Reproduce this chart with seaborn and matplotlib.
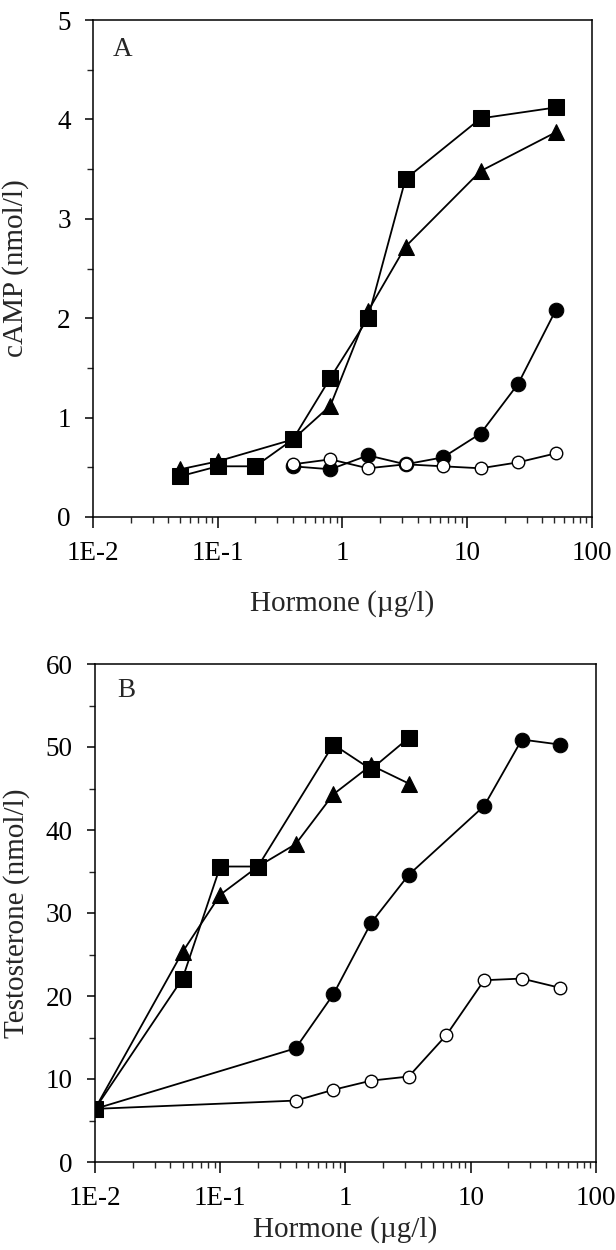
import matplotlib
matplotlib.use("Agg")
import matplotlib.pyplot as plt
import seaborn as sns
import numpy as np
import pandas as pd

# panel A: cAMP (nmol/l)
a_sq_x = [0.05, 0.1, 0.2, 0.4, 0.8, 1.6, 3.2, 12.8, 51.2]
a_sq_y = [0.41, 0.51, 0.51, 0.78, 1.40, 2.00, 3.40, 4.01, 4.12]
a_tri_x = [0.05, 0.1, 0.4, 0.8, 1.6, 3.2, 12.8, 51.2]
a_tri_y = [0.48, 0.56, 0.78, 1.12, 2.07, 2.72, 3.48, 3.87]
a_fc_x = [0.4, 0.8, 1.6, 3.2, 6.4, 12.8, 25.6, 51.2]
a_fc_y = [0.51, 0.48, 0.62, 0.53, 0.60, 0.84, 1.34, 2.08]
a_oc_x = [0.4, 0.8, 1.6, 3.2, 6.4, 12.8, 25.6, 51.2]
a_oc_y = [0.53, 0.58, 0.49, 0.53, 0.51, 0.49, 0.55, 0.64]

# panel B: testosterone (nmol/l)
b_sq_x = [0.01, 0.05, 0.1, 0.2, 0.8, 1.6, 3.2]
b_sq_y = [6.4, 22.1, 35.6, 35.6, 50.3, 47.3, 51.1]
b_tri_x = [0.01, 0.05, 0.1, 0.2, 0.4, 0.8, 1.6, 3.2]
b_tri_y = [6.4, 25.3, 32.2, 35.6, 38.3, 44.3, 47.8, 45.6]
b_fc_x = [0.01, 0.4, 0.8, 1.6, 3.2, 12.8, 25.6, 51.2]
b_fc_y = [6.4, 13.7, 20.2, 28.8, 34.6, 42.9, 50.9, 50.3]
b_oc_x = [0.01, 0.4, 0.8, 1.6, 3.2, 6.4, 12.8, 25.6, 51.2]
b_oc_y = [6.4, 7.4, 8.7, 9.8, 10.3, 15.3, 21.9, 22.1, 21.0]

x_ticks = [0.01, 0.1, 1, 10, 100]
x_tick_labels = ["1E-2", "1E-1", "1", "10", "100"]

sns.set_style("ticks")
plt.rcParams['font.family'] = ['Liberation Serif', 'DejaVu Serif']

fig = plt.figure(figsize=(6.16, 12.5), dpi=100)
ax_a = fig.add_axes([0.151, 0.5864, 0.810, 0.3976])
ax_b = fig.add_axes([0.1542, 0.0704, 0.8133, 0.3984])

line_kw = dict(color='black', linewidth=1.3)


def draw_series(ax, sq, tri, fc, oc):
    sns.lineplot(x=fc[0], y=fc[1], ax=ax, marker='o', markersize=10.5, markerfacecolor='black',
                 markeredgecolor='black', sort=False, **line_kw)
    sns.lineplot(x=oc[0], y=oc[1], ax=ax, marker='o', markersize=9, markerfacecolor='white',
                 markeredgecolor='black', markeredgewidth=1.0, sort=False, **line_kw)
    sns.lineplot(x=tri[0], y=tri[1], ax=ax, marker='^', markersize=11.5, markerfacecolor='black',
                 markeredgecolor='black', sort=False, **line_kw)
    sns.lineplot(x=sq[0], y=sq[1], ax=ax, marker='s', markersize=11, markerfacecolor='black',
                 markeredgecolor='black', sort=False, **line_kw)


draw_series(ax_a, (a_sq_x, a_sq_y), (a_tri_x, a_tri_y), (a_fc_x, a_fc_y), (a_oc_x, a_oc_y))
draw_series(ax_b, (b_sq_x, b_sq_y), (b_tri_x, b_tri_y), (b_fc_x, b_fc_y), (b_oc_x, b_oc_y))

for ax in (ax_a, ax_b):
    ax.set_xscale('log')
    ax.set_xlim(0.01, 100)
    ax.set_xticks(x_ticks)
    ax.set_xticklabels(x_tick_labels)
    ax.xaxis.set_minor_locator(matplotlib.ticker.LogLocator(base=10, subs=np.arange(2, 10)))
    ax.xaxis.set_minor_formatter(matplotlib.ticker.NullFormatter())
    ax.tick_params(axis='both', which='major', direction='out', length=8, width=1.1,
                   labelsize=19.5, pad=9, colors='black')
    ax.tick_params(axis='both', which='minor', direction='out', length=4.5, width=1.0)
    ax.tick_params(axis='y', which='major', pad=10, length=6)
    ax.tick_params(top=False, right=False, which='both')
    for s in ax.spines.values():
        s.set_visible(True)
        s.set_linewidth(1.1)
        s.set_color('black')
    ax.set_xlabel("Hormone (µg/l)", fontsize=21)

ax_a.xaxis.set_label_coords(0.5, -0.147)
ax_b.xaxis.set_label_coords(0.5, -0.108)

ax_a.set_ylim(0, 5)
ax_a.set_yticks([0, 1, 2, 3, 4, 5])
ax_a.set_yticks(np.arange(0.5, 5, 1), minor=True)
ax_a.set_ylabel("cAMP (nmol/l)", fontsize=21)
ax_a.yaxis.set_label_coords(-0.128, 0.5)
ax_a.text(0.04, 0.965, "A", transform=ax_a.transAxes, fontsize=19.5, va='top', ha='left')

ax_b.set_ylim(0, 60)
ax_b.set_yticks([0, 10, 20, 30, 40, 50, 60])
ax_b.set_yticks(np.arange(5, 60, 10), minor=True)
ax_b.set_ylabel("Testosterone (nmol/l)", fontsize=21)
ax_b.yaxis.set_label_coords(-0.13, 0.5)
ax_b.text(0.044, 0.972, "B", transform=ax_b.transAxes, fontsize=19.5, va='top', ha='left')

fig.savefig("out.png", dpi=100)
